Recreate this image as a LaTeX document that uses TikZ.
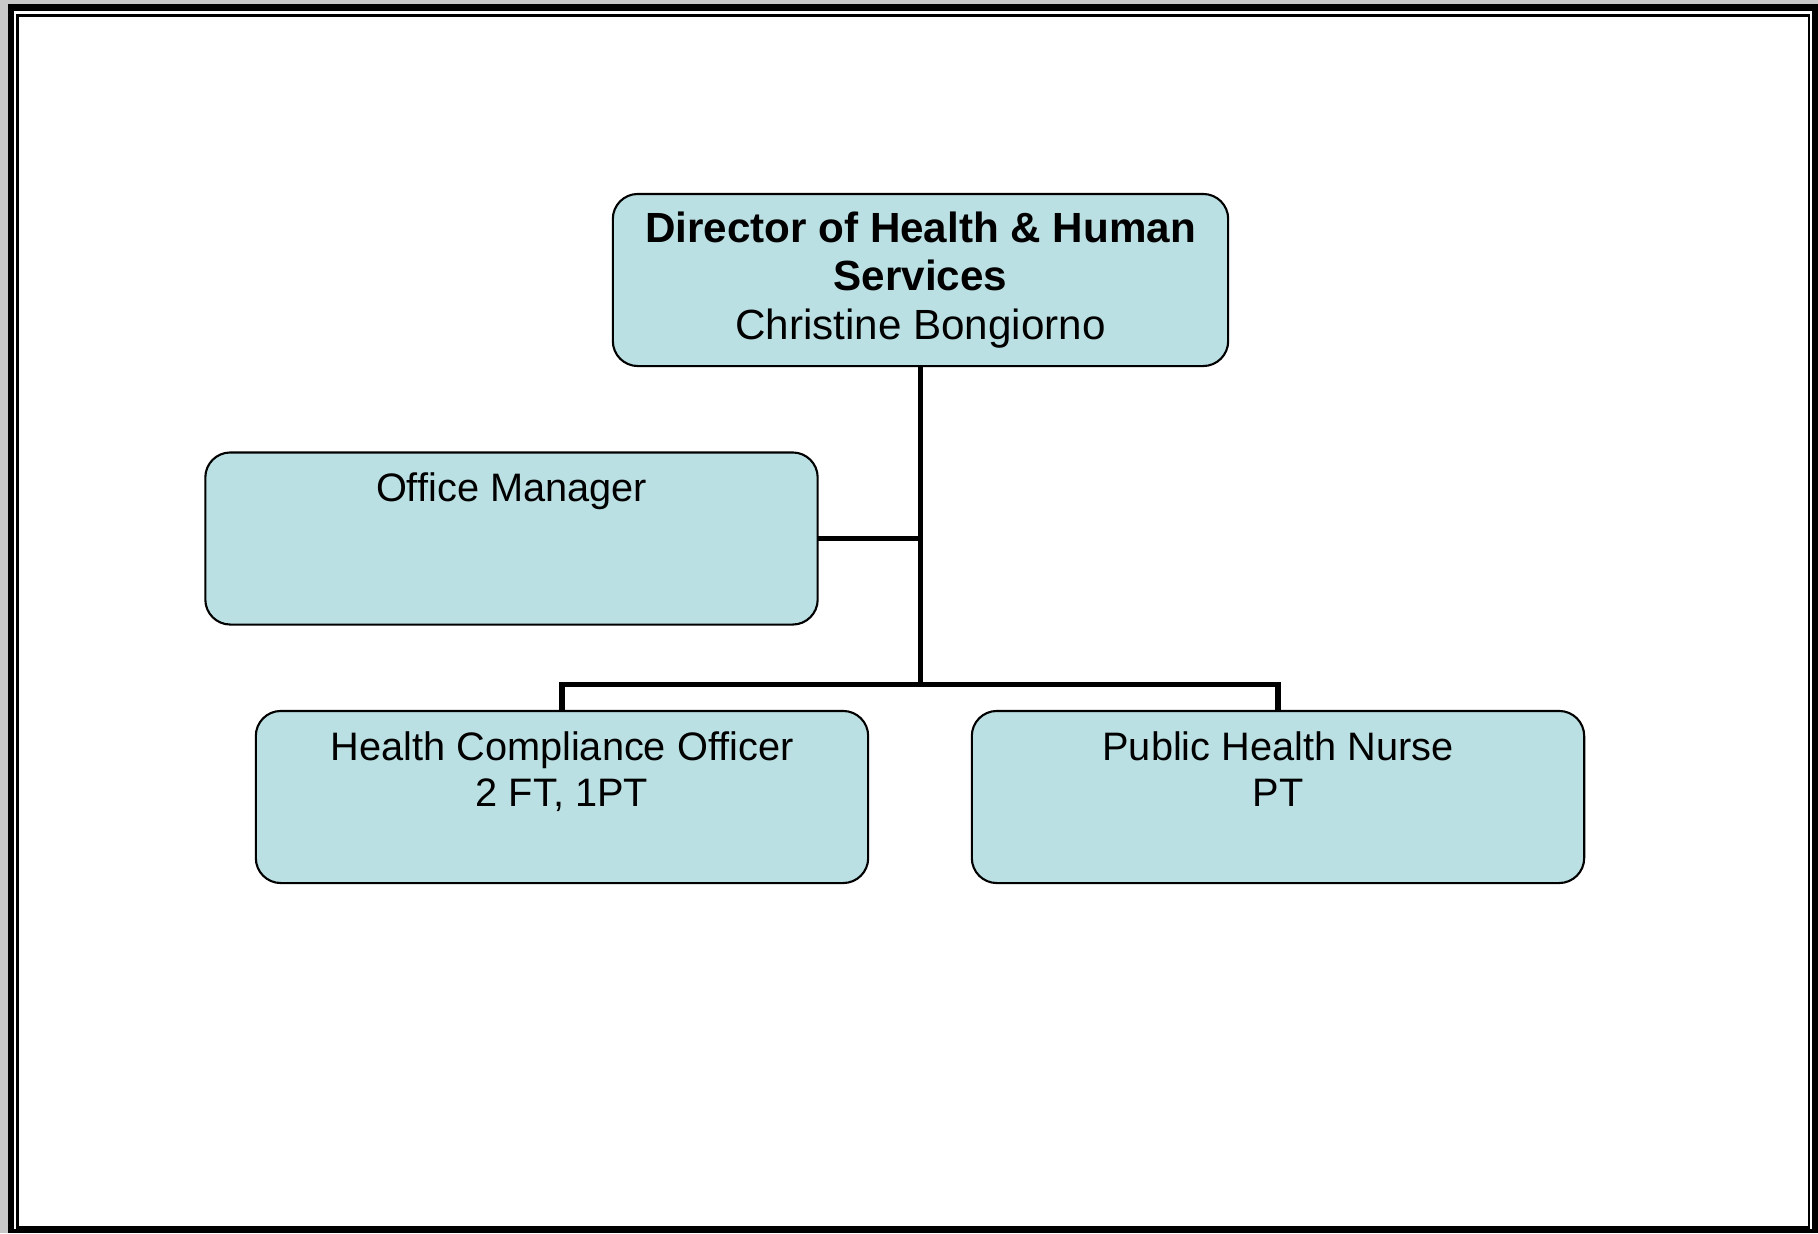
\documentclass[tikz,border=0pt]{standalone}
\usepackage{fontspec}
\setmainfont{Liberation Sans}
\definecolor{boxfill}{RGB}{187,224,227}
\definecolor{pagegray}{RGB}{200,200,200}
\tikzset{
  unit/.style={draw, line width=0.6pt, fill=boxfill, rounded corners=0.25cm,
    minimum width=6.12cm, minimum height=1.72cm, outer sep=0pt},
  unittext/.style={anchor=north, yshift=-0.2cm, inner sep=0pt, align=center,
    font=\fontsize{11.3pt}{13.1pt}\selectfont},
  link/.style={line width=1.45pt}
}
\begin{document}
\begin{tikzpicture}[x=0.01cm, y=-0.01cm]
    \fill [pagegray] (0, 0) rectangle (1818, 1233);
    \fill [black] (8, 4) rectangle (1818, 1233);
    \fill [white] (14, 11) rectangle (1812, 1229);
    \draw [line width=0.7pt] (17.5, 15.5) rectangle (1809, 1227.5);
    \node [unit, minimum width=6.15cm, align=center, font=\fontsize{12pt}{13.8pt}\selectfont] (director) at (920.5, 280)
      {\textbf{Director of Health \& Human}\\\textbf{Services}\\Christine Bongiorno};
    \node [unit, label={[unittext]north:Office Manager}] (office) at (511.5, 538.5) {};
    \node [unit, label={[unittext]north:Health Compliance Officer\\2 FT, 1PT}] (hco) at (562, 797) {};
    \node [unit, label={[unittext]north:Public Health Nurse\\PT}] (nurse) at (1278, 797) {};
    \coordinate (bar) at (920.5, 684.5);
    \draw [link] (director.south) -- (bar);
    \draw [link] (office.east) -- (office.east -| director.south);
    \draw [link] (hco.north) |- (bar) -| (nurse.north);
  \end{tikzpicture}
\end{document}
